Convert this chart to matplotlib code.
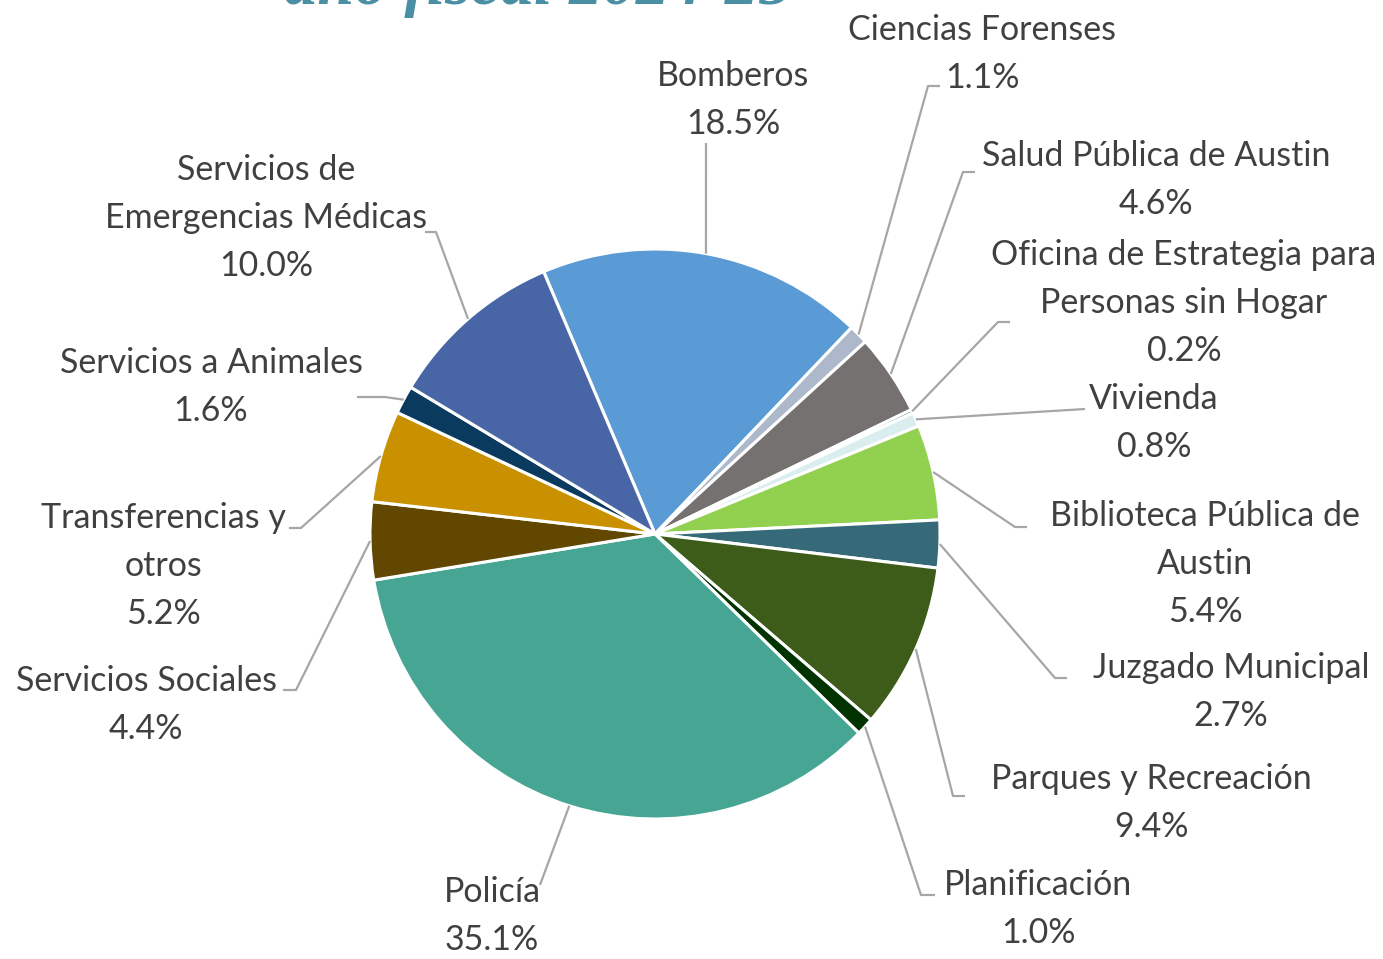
import matplotlib
matplotlib.use("Agg")
import matplotlib.pyplot as plt
import numpy as np

categories = ["Bomberos", "Ciencias Forenses", "Salud Pública de Austin",
              "Oficina de Estrategia para Personas sin Hogar", "Vivienda",
              "Biblioteca Pública de Austin", "Juzgado Municipal",
              "Parques y Recreación", "Planificación", "Policía",
              "Servicios Sociales", "Transferencias y otros",
              "Servicios a Animales", "Servicios de Emergencias Médicas"]
values = [18.5, 1.1, 4.6, 0.2, 0.8, 5.4, 2.7, 9.4, 1.0, 35.1, 4.4, 5.2, 1.6, 10.0]
label_texts = ["Bomberos", "Ciencias Forenses", "Salud Pública de Austin",
               "Oficina de Estrategia para\nPersonas sin Hogar", "Vivienda",
               "Biblioteca Pública de\nAustin", "Juzgado Municipal",
               "Parques y Recreación", "Planificación", "Policía",
               "Servicios Sociales", "Transferencias y\notros",
               "Servicios a Animales", "Servicios de\nEmergencias Médicas"]
colors = ["#5B9BD5", "#ADB9CA", "#767171", "#203D54", "#DAEEF0", "#92D050",
          "#366A79", "#3D5C1A", "#003300", "#47A594", "#614700", "#C99100",
          "#0B3A5F", "#4866A5"]
title_text = "año fiscal 2024-25"

# layout (pixel coordinates, y downward): label centre, elbow point, elbow end
label_pos = [(733, 100), (982, 54), (1156, 180), (1184, 303), (1154, 423),
             (1205, 564), (1231, 692), (1151, 803), (1038, 909), (492, 916),
             (146, 705), (163, 566), (211, 387), (266, 218)]
elbows = [((706, 143), None), ((928, 86), (940, 86)), ((963, 172), (975, 172)),
          ((998, 322), (1010, 322)), ((1085, 409), None), ((1015, 527), (1027, 527)),
          ((1055, 678), (1067, 678)), ((953, 796), (965, 796)), ((921, 895), (935, 895)),
          ((540, 885), None), ((296, 690), (283, 690)), ((301, 528), (289, 528)),
          ((385, 397), (357, 397)), ((436, 232), (425, 232))]

W, H = 1383, 959
fig = plt.figure(figsize=(W / 100, H / 100), dpi=100)
ax = fig.add_axes([0, 0, 1, 1])

cx, cy, R = 655, H - 534, 285
start = 113
wedges, _ = ax.pie(values, colors=colors, startangle=start, counterclock=False,
                   center=(cx, cy), radius=R, frame=True,
                   wedgeprops=dict(edgecolor="white", linewidth=2.2))
ax.set_xlim(0, W)
ax.set_ylim(0, H)
ax.set_aspect("equal")
ax.axis("off")

font = "Lato"
fs = 24.5
cum = np.cumsum([0] + values[:-1])
for i, (v, lbl) in enumerate(zip(values, label_texts)):
    mid = np.deg2rad(start - (cum[i] + v / 2) / 100 * 360)
    ex, ey = cx + R * np.cos(mid), cy + R * np.sin(mid)
    (bx, by), end = elbows[i]
    xs = [ex, bx]
    ys = [ey, H - by]
    if end is not None:
        xs.append(end[0])
        ys.append(H - end[1])
    ax.plot(xs, ys, color="#A6A6A6", lw=1.6, zorder=1, solid_capstyle="butt")
    lx, ly = label_pos[i]
    ax.text(lx, H - ly, f"{lbl}\n{v:.1f}%", ha="center", va="center",
            fontsize=fs, family=font, color="#404040", linespacing=1.6)

ax.text(538, H - 4, title_text, ha="center", va="baseline", fontsize=48,
        family="Liberation Serif", style="italic", weight="bold", color="#4A8FA3")

fig.savefig("out.png", dpi=100)
